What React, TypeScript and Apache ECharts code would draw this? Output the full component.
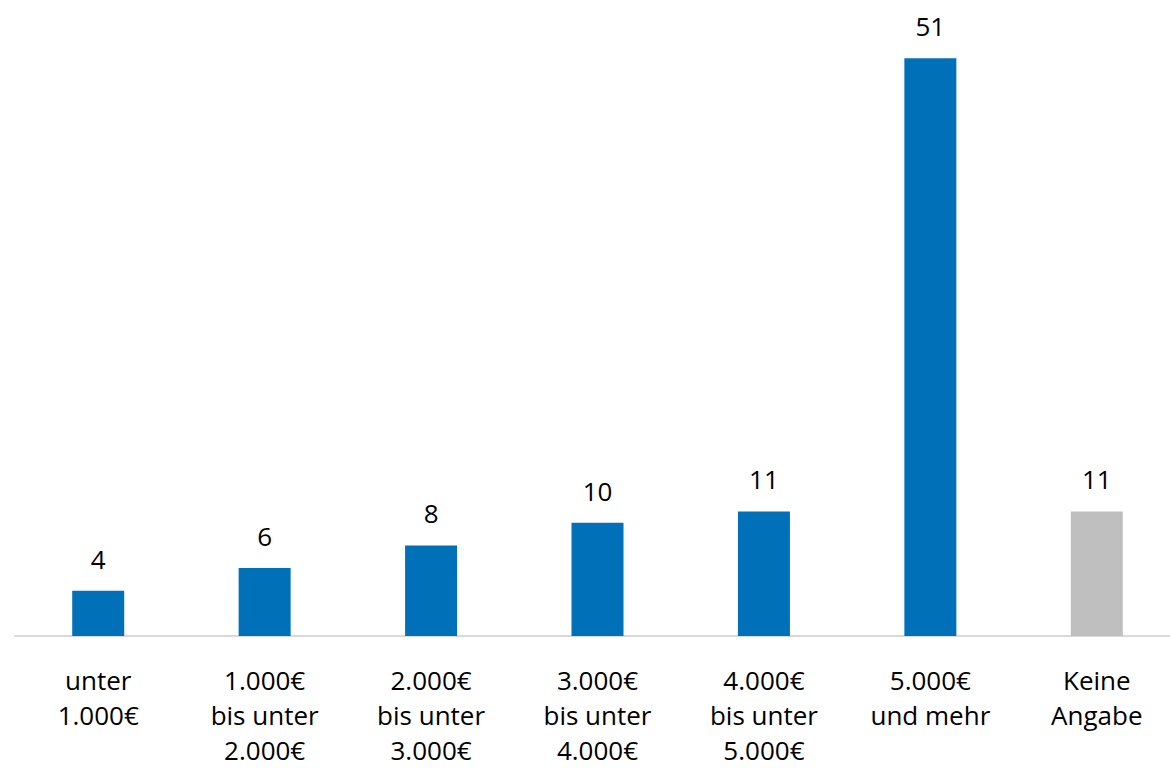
import React, { useEffect, useRef } from "react";
import * as echarts from "echarts";

const categories = [
  "unter\n1.000€",
  "1.000€\nbis unter\n2.000€",
  "2.000€\nbis unter\n3.000€",
  "3.000€\nbis unter\n4.000€",
  "4.000€\nbis unter\n5.000€",
  "5.000€\nund mehr",
  "Keine\nAngabe",
];
const values = [4, 6, 8, 10, 11, 51, 11];
const barColors = ["#0071B9", "#0071B9", "#0071B9", "#0071B9", "#0071B9", "#0071B9", "#BFBFBF"];

export default function App() {
  const ref = useRef<HTMLDivElement>(null);
  useEffect(() => {
    if (!ref.current) return;
    const chart = echarts.init(ref.current, undefined, { renderer: "svg" });
    const font = "'Open Sans', Lato, sans-serif";
    chart.setOption({
      animation: false,
      grid: { left: 15, top: 13, right: -10, bottom: 132, containLabel: false, outerBoundsMode: "none" },
      xAxis: {
        type: "category",
        data: categories,
        axisLine: { lineStyle: { color: "#D9D9D9", width: 2 } },
        axisTick: { show: false },
        axisLabel: {
          interval: 0,
          margin: 26,
          fontSize: 26,
          lineHeight: 35,
          color: "#000",
          fontFamily: font,
        },
      },
      yAxis: {
        type: "value",
        min: 0,
        max: 55,
        show: false,
        splitLine: { show: false },
      },
      series: [
        {
          type: "bar",
          barWidth: 52,
          data: values.map((v, i) => ({ value: v, itemStyle: { color: barColors[i] } })),
          label: {
            show: true,
            position: "top",
            distance: 19,
            fontSize: 26,
            color: "#000",
            fontFamily: font,
          },
        },
      ],
    });
    return () => chart.dispose();
  }, []);
  return (
    <div
      ref={ref}
      style={{ position: "fixed", left: 0, top: 0, width: 1170, height: 768, background: "#fff" }}
    />
  );
}
